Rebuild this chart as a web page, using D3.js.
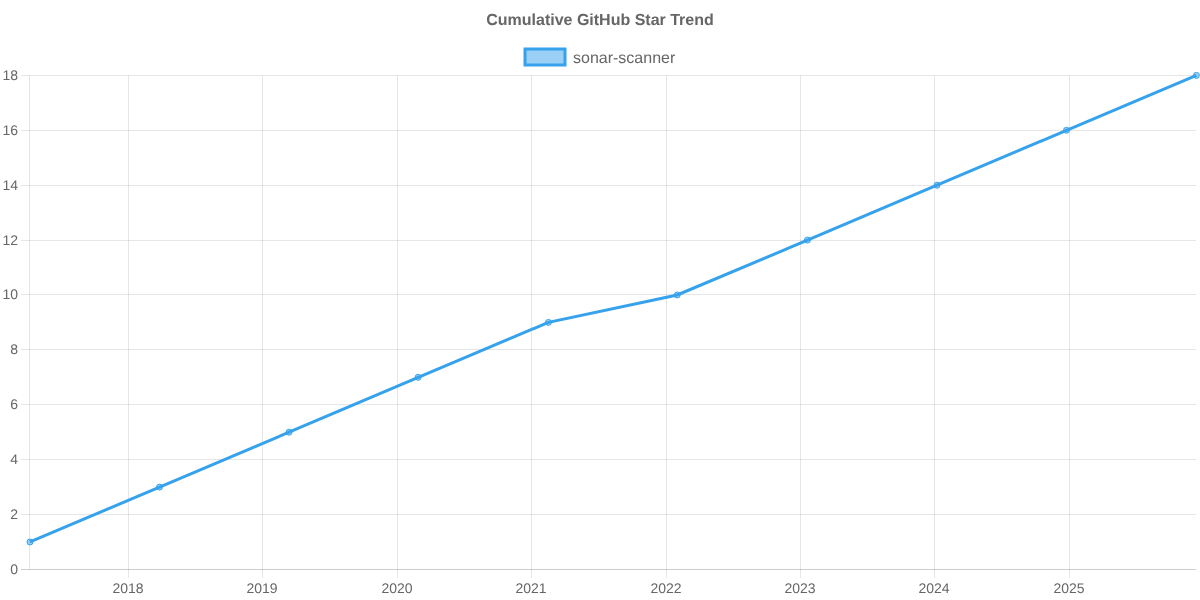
<!DOCTYPE html>
<html><head><meta charset="utf-8">
<script src="https://cdn.jsdelivr.net/npm/d3@7/dist/d3.min.js"></script>
<style>html,body{margin:0;padding:0;background:#fff}svg{display:block}text{font-family:"Liberation Sans",Arial,sans-serif;fill:#666;text-rendering:geometricPrecision}.lbl{opacity:.999}</style>
</head><body><svg id="c" width="1200" height="600"></svg>
<script>
const title="Cumulative GitHub Star Trend";
const seriesName="sonar-scanner";
const dates=["2017-04-08","2018-03-26","2019-03-13","2020-02-27","2021-02-15","2022-01-31","2023-01-20","2024-01-07","2024-12-24","2025-12-12"];
const stars=[1,3,5,7,9,10,12,14,16,18];
const yTicks=[0,2,4,6,8,10,12,14,16,18];
const xTickYears=[2018,2019,2020,2021,2022,2023,2024,2025];

const svg=d3.select("#c");
const parsed=dates.map(d=>new Date(d+"T00:00:00Z"));
const x=d3.scaleUtc().domain([parsed[0],parsed[parsed.length-1]]).range([30,1196.4]);
const y=d3.scaleLinear().domain([0,18]).range([569.4,75.4]);
const grid="rgba(0,0,0,0.1)";
const snap=v=>Math.floor(v)+0.5;

const xAxis=d3.axisBottom(x).tickValues(xTickYears.map(v=>new Date(Date.UTC(v,0,1)))).tickFormat(d3.utcFormat("%Y")).tickSize(0).offset(0);
const gx=svg.append("g").attr("class","lbl").attr("transform","translate(0,569.5)").call(xAxis);
gx.select(".domain").remove();
gx.selectAll(".tick").attr("transform",d=>`translate(${snap(x(d))},0)`);
gx.selectAll(".tick line").attr("stroke",grid).attr("y1",-494).attr("y2",8.5);
gx.selectAll(".tick text").attr("x",-0.5).attr("y",14).attr("dy","0.71em").style("font-size","14px");

const yAxis=d3.axisLeft(y).tickValues(yTicks).tickSize(0).offset(0);
const gy=svg.append("g").attr("class","lbl").attr("transform","translate(29.5,0)").call(yAxis);
gy.select(".domain").remove();
gy.selectAll(".tick").attr("transform",d=>`translate(0,${snap(y(d))})`);
gy.selectAll(".tick line").attr("stroke",grid).attr("x1",-8.5).attr("x2",1166.5);
gy.selectAll(".tick text").attr("x",-11.5).style("font-size","14px");
gy.selectAll(".tick").filter(d=>d===0).select("line").attr("stroke","rgba(0,0,0,0.2)");
svg.append("line").attr("x1",29.5).attr("x2",29.5).attr("y1",75.5).attr("y2",569).attr("stroke",grid);

const line=d3.line().x((d,i)=>x(parsed[i])).y(d=>y(d));
svg.append("path").datum(stars).attr("d",line).attr("fill","none").attr("stroke","#36a2eb").attr("stroke-width",3);
svg.append("g").selectAll("circle").data(stars).join("circle")
 .attr("cx",(d,i)=>x(parsed[i])).attr("cy",d=>y(d)).attr("r",3)
 .attr("fill","rgba(54,162,235,0.5)").attr("stroke","#36a2eb").attr("stroke-width",1);

const head=svg.append("g").attr("class","lbl");
head.append("text").attr("x",600).attr("y",25).attr("text-anchor","middle").style("font-size","16px").style("font-weight","bold").text(title);
head.append("rect").attr("x",525).attr("y",49).attr("width",40).attr("height",16).attr("fill","rgba(54,162,235,0.5)").attr("stroke","#36a2eb").attr("stroke-width",3);
head.append("text").attr("x",573).attr("y",63).style("font-size","16px").text(seriesName);
</script></body></html>
